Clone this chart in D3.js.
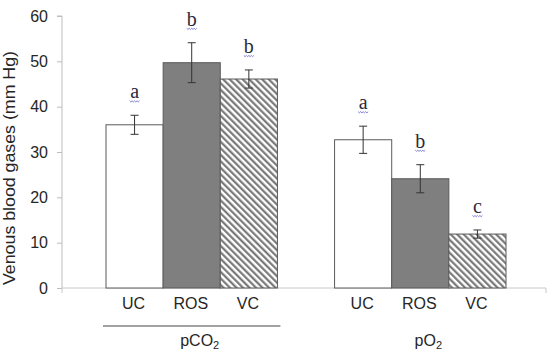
<!DOCTYPE html>
<html>
<head>
<meta charset="utf-8">
<style>
  body { margin: 0; background: #fff; }
  svg { display: block; }
</style>
<script src="https://cdnjs.cloudflare.com/ajax/libs/d3/7.8.5/d3.min.js"></script>
</head>
<body>
<div id="chart"></div>
<script>
// values
const groups = ["pCO2", "pO2"];
const treatments = ["UC", "ROS", "VC"];
const pco2Means = [36.0, 49.7, 46.1];
const pco2Err = [2.1, 4.4, 2.0];
const po2Means = [32.7, 24.1, 11.9];
const po2Err = [3.0, 3.1, 0.9];
const pco2Letters = ["a", "b", "b"];
const po2Letters = ["a", "b", "c"];
const yTicks = [0, 10, 20, 30, 40, 50, 60];

const w = 552, h = 352;
const axisLeft = 62, axisRight = 546;
const plotTop = 16, plotBottom = 288;

const rows = [];
groups.forEach((g, gi) => {
  const m = gi === 0 ? pco2Means : po2Means;
  const e = gi === 0 ? pco2Err : po2Err;
  const l = gi === 0 ? pco2Letters : po2Letters;
  treatments.forEach((t, ti) => rows.push({ group: g, treat: t, mean: m[ti], err: e[ti], letter: l[ti] }));
});

const svg = d3.select("#chart").append("svg").attr("width", w).attr("height", h);

const defs = svg.append("defs");
const pat = defs.append("pattern")
  .attr("id", "hatch")
  .attr("patternUnits", "userSpaceOnUse")
  .attr("width", 4.6).attr("height", 10)
  .attr("patternTransform", "rotate(-45)");
pat.append("rect").attr("width", 4.6).attr("height", 10).attr("fill", "#fff");
pat.append("line").attr("x1", 1.2).attr("y1", 0).attr("x2", 1.2).attr("y2", 10)
  .attr("stroke", "#707070").attr("stroke-width", 2.1);

const y = d3.scaleLinear().domain([0, 60]).range([plotBottom, plotTop]);
const x0 = d3.scaleBand().domain(groups).range([106, 506]).paddingInner(0.25);
const x1 = d3.scaleBand().domain(treatments).range([0, x0.bandwidth()]);

const fills = { UC: "#ffffff", ROS: "#7f7f7f", VC: "url(#hatch)" };

// y axis
const yAxis = svg.append("g")
  .attr("transform", `translate(${axisLeft},0)`)
  .call(d3.axisLeft(y).tickValues(yTicks).tickSize(5).tickPadding(9));
yAxis.select(".domain").attr("stroke", "#bdbdbd").attr("d", `M-5,${y(60)}H0V${y(0)}`);
yAxis.selectAll(".tick line").attr("stroke", "#bdbdbd");
yAxis.selectAll(".tick text")
  .attr("fill", "#262626")
  .style("font-family", "Liberation Sans, Arial, sans-serif")
  .style("font-size", "16px");

// x axis line
svg.append("path")
  .attr("d", `M${axisLeft},${plotBottom}H${axisRight}M${axisLeft},${plotBottom}v5M${axisRight},${plotBottom}v5`)
  .attr("stroke", "#c8c8c8").attr("fill", "none");

const bars = svg.append("g").selectAll("g.bar").data(rows).enter().append("g")
  .attr("transform", d => `translate(${x0(d.group) + x1(d.treat)},0)`);

bars.append("rect")
  .attr("x", 0).attr("width", x1.bandwidth())
  .attr("y", d => y(d.mean)).attr("height", d => y(0) - y(d.mean))
  .attr("fill", d => fills[d.treat])
  .attr("stroke", "#5a5a5a").attr("stroke-width", 1);

const cx = x1.bandwidth() / 2;
bars.append("path")
  .attr("d", d => `M${cx},${y(d.mean + d.err)}V${y(d.mean - d.err)}M${cx - 4},${y(d.mean + d.err)}h8M${cx - 4},${y(d.mean - d.err)}h8`)
  .attr("stroke", "#333").attr("fill", "none");

bars.append("text")
  .attr("x", cx).attr("y", d => y(d.mean + d.err) - 17)
  .attr("text-anchor", "middle")
  .style("font-family", "Liberation Serif, Times New Roman, serif")
  .style("font-size", "20px")
  .attr("fill", "#2a2a3a")
  .text(d => d.letter);

// spell-check squiggle under the letters
bars.append("path")
  .attr("d", d => {
    const by = y(d.mean + d.err) - 14.5;
    return `M${cx - 5},${by}l1.25,1.2l1.25,-1.2l1.25,1.2l1.25,-1.2l1.25,1.2l1.25,-1.2l1.25,1.2l1.25,-1.2`;
  })
  .attr("stroke", "#6f6fd0").attr("stroke-width", 0.9).attr("fill", "none");

// treatment labels
bars.append("text")
  .attr("x", cx - 1).attr("y", 309)
  .attr("text-anchor", "middle")
  .style("font-family", "Liberation Sans, Arial, sans-serif")
  .style("font-size", "16px")
  .attr("fill", "#262626")
  .text(d => d.treat);

// group labels
const gl = svg.append("g").selectAll("text").data(groups).enter().append("text")
  .attr("x", d => x0(d) + x0.bandwidth() / 2 + 8)
  .attr("y", 346)
  .attr("text-anchor", "middle")
  .style("font-family", "Liberation Sans, Arial, sans-serif")
  .style("font-size", "16px")
  .attr("fill", "#262626");
gl.append("tspan").text(d => d.slice(0, -1));
gl.append("tspan").attr("dy", 3).style("font-size", "11px").text(d => d.slice(-1));

// line under pCO2 group
svg.append("line")
  .attr("x1", x0(groups[0]) - 3).attr("x2", x0(groups[0]) + x0.bandwidth() + 3)
  .attr("y1", 326).attr("y2", 326)
  .attr("stroke", "#444");

// y title
svg.append("text")
  .attr("transform", `translate(15,${(plotTop + plotBottom) / 2 + 16}) rotate(-90)`)
  .attr("text-anchor", "middle")
  .style("font-family", "Liberation Sans, Arial, sans-serif")
  .style("font-size", "16px")
  .attr("fill", "#262626")
  .attr("textLength", 234).attr("lengthAdjust", "spacingAndGlyphs")
  .text("Venous blood gases (mm Hg)");
</script>
</body>
</html>
